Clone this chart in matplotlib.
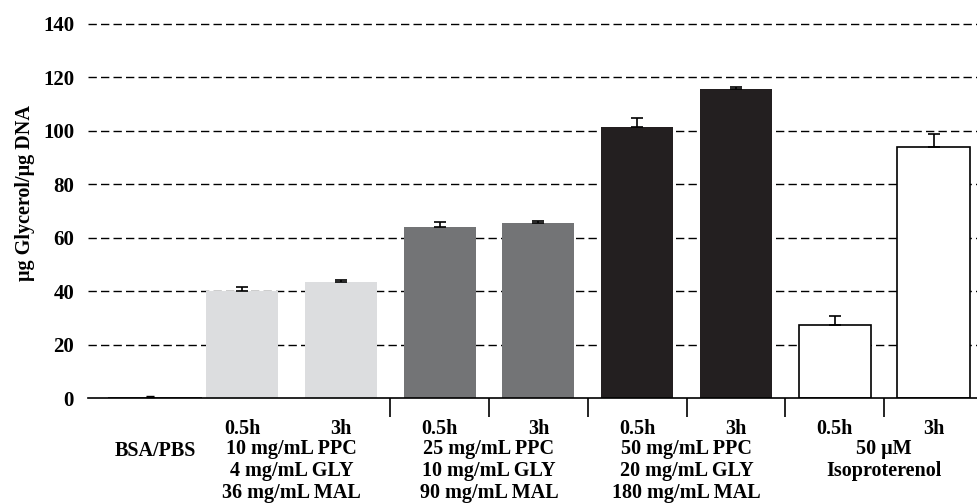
import numpy as np
import matplotlib
matplotlib.use("Agg")
import matplotlib.pyplot as plt
from matplotlib.transforms import blended_transform_factory

# glycerol release per treatment (mean, SEM)
times = ["0.5h", "3h", "0.5h", "3h", "0.5h", "3h", "0.5h", "3h"]
means = [40.1, 43.4, 64.0, 65.6, 101.6, 115.5, 27.3, 94.0]
sems = [1.3, 0.7, 1.8, 0.6, 3.2, 1.0, 3.5, 5.0]
bsa_mean = 0.4
bsa_sem = 0.3
groups = ["10 mg/mL PPC\n4 mg/mL GLY\n36 mg/mL MAL",
          "25 mg/mL PPC\n10 mg/mL GLY\n90 mg/mL MAL",
          "50 mg/mL PPC\n20 mg/mL GLY\n180 mg/mL MAL",
          "50 μM\nIsoproterenol"]
yticks = [0, 20, 40, 60, 80, 100, 120, 140]

colors = ["#dcdddf", "#dcdddf", "#737476", "#737476",
          "#231f20", "#231f20", "white", "white"]

plt.rcParams["font.family"] = ["Liberation Serif", "DejaVu Serif"]
plt.rcParams["font.weight"] = "bold"

fig = plt.figure(figsize=(9.77, 5.04), dpi=100)
ax = fig.add_axes([0.090, 0.2103, 0.910, 0.7527])

x = np.arange(1, len(means) + 1)
for yv in yticks[1:]:
    ax.axhline(yv, color="black", lw=1.0, ls=(0, (6, 3)), zorder=0)

ax.bar(0.12, bsa_mean, width=0.95, color="#3a3a3a", zorder=2)
ax.errorbar(0.07, bsa_mean, yerr=[[0], [bsa_sem]], fmt="none",
            ecolor="black", elinewidth=1, capsize=3, zorder=3)
edges = ["none"] * 6 + ["black", "black"]
ax.bar(x, means, width=0.73, color=colors, edgecolor=edges,
       linewidth=1.2, zorder=2)
ax.errorbar(x, means, yerr=[np.zeros(len(sems)), sems], fmt="none",
            ecolor="black", elinewidth=1.2, capsize=4, capthick=1.2, zorder=3)

ax.set_xlim(-0.56, 8.44)
ax.set_ylim(0, 142)
ax.set_yticks(yticks)
ax.tick_params(axis="y", length=0, labelsize=15, pad=10)
for s in ["left", "right", "top"]:
    ax.spines[s].set_visible(False)
ax.spines["bottom"].set_linewidth(1.2)

ax.set_xticks(x)
ax.set_xticklabels(times, fontsize=14.5)
ax.set_xticks(np.arange(2.5, 8.5, 1.0), minor=True)
ax.tick_params(axis="x", which="major", length=0, pad=15)
ax.tick_params(axis="x", which="minor", length=14, width=1.2, direction="out")

ax.set_ylabel("μg Glycerol/μg DNA", fontsize=14.5, fontweight="bold")
ax.yaxis.set_label_coords(-0.060, 0.54)

tr = blended_transform_factory(ax.transData, ax.transAxes)
ax.text(0.12, -0.14, "BSA/PBS", transform=tr, ha="center", va="center",
        fontsize=14.5)
centers = [1.5, 3.5, 5.5, 7.5]
for c, g in zip(centers, groups):
    ax.text(c, -0.108, g, transform=tr, ha="center", va="top",
            fontsize=14.5, linespacing=1.15)

fig.savefig("out.png", dpi=100)
